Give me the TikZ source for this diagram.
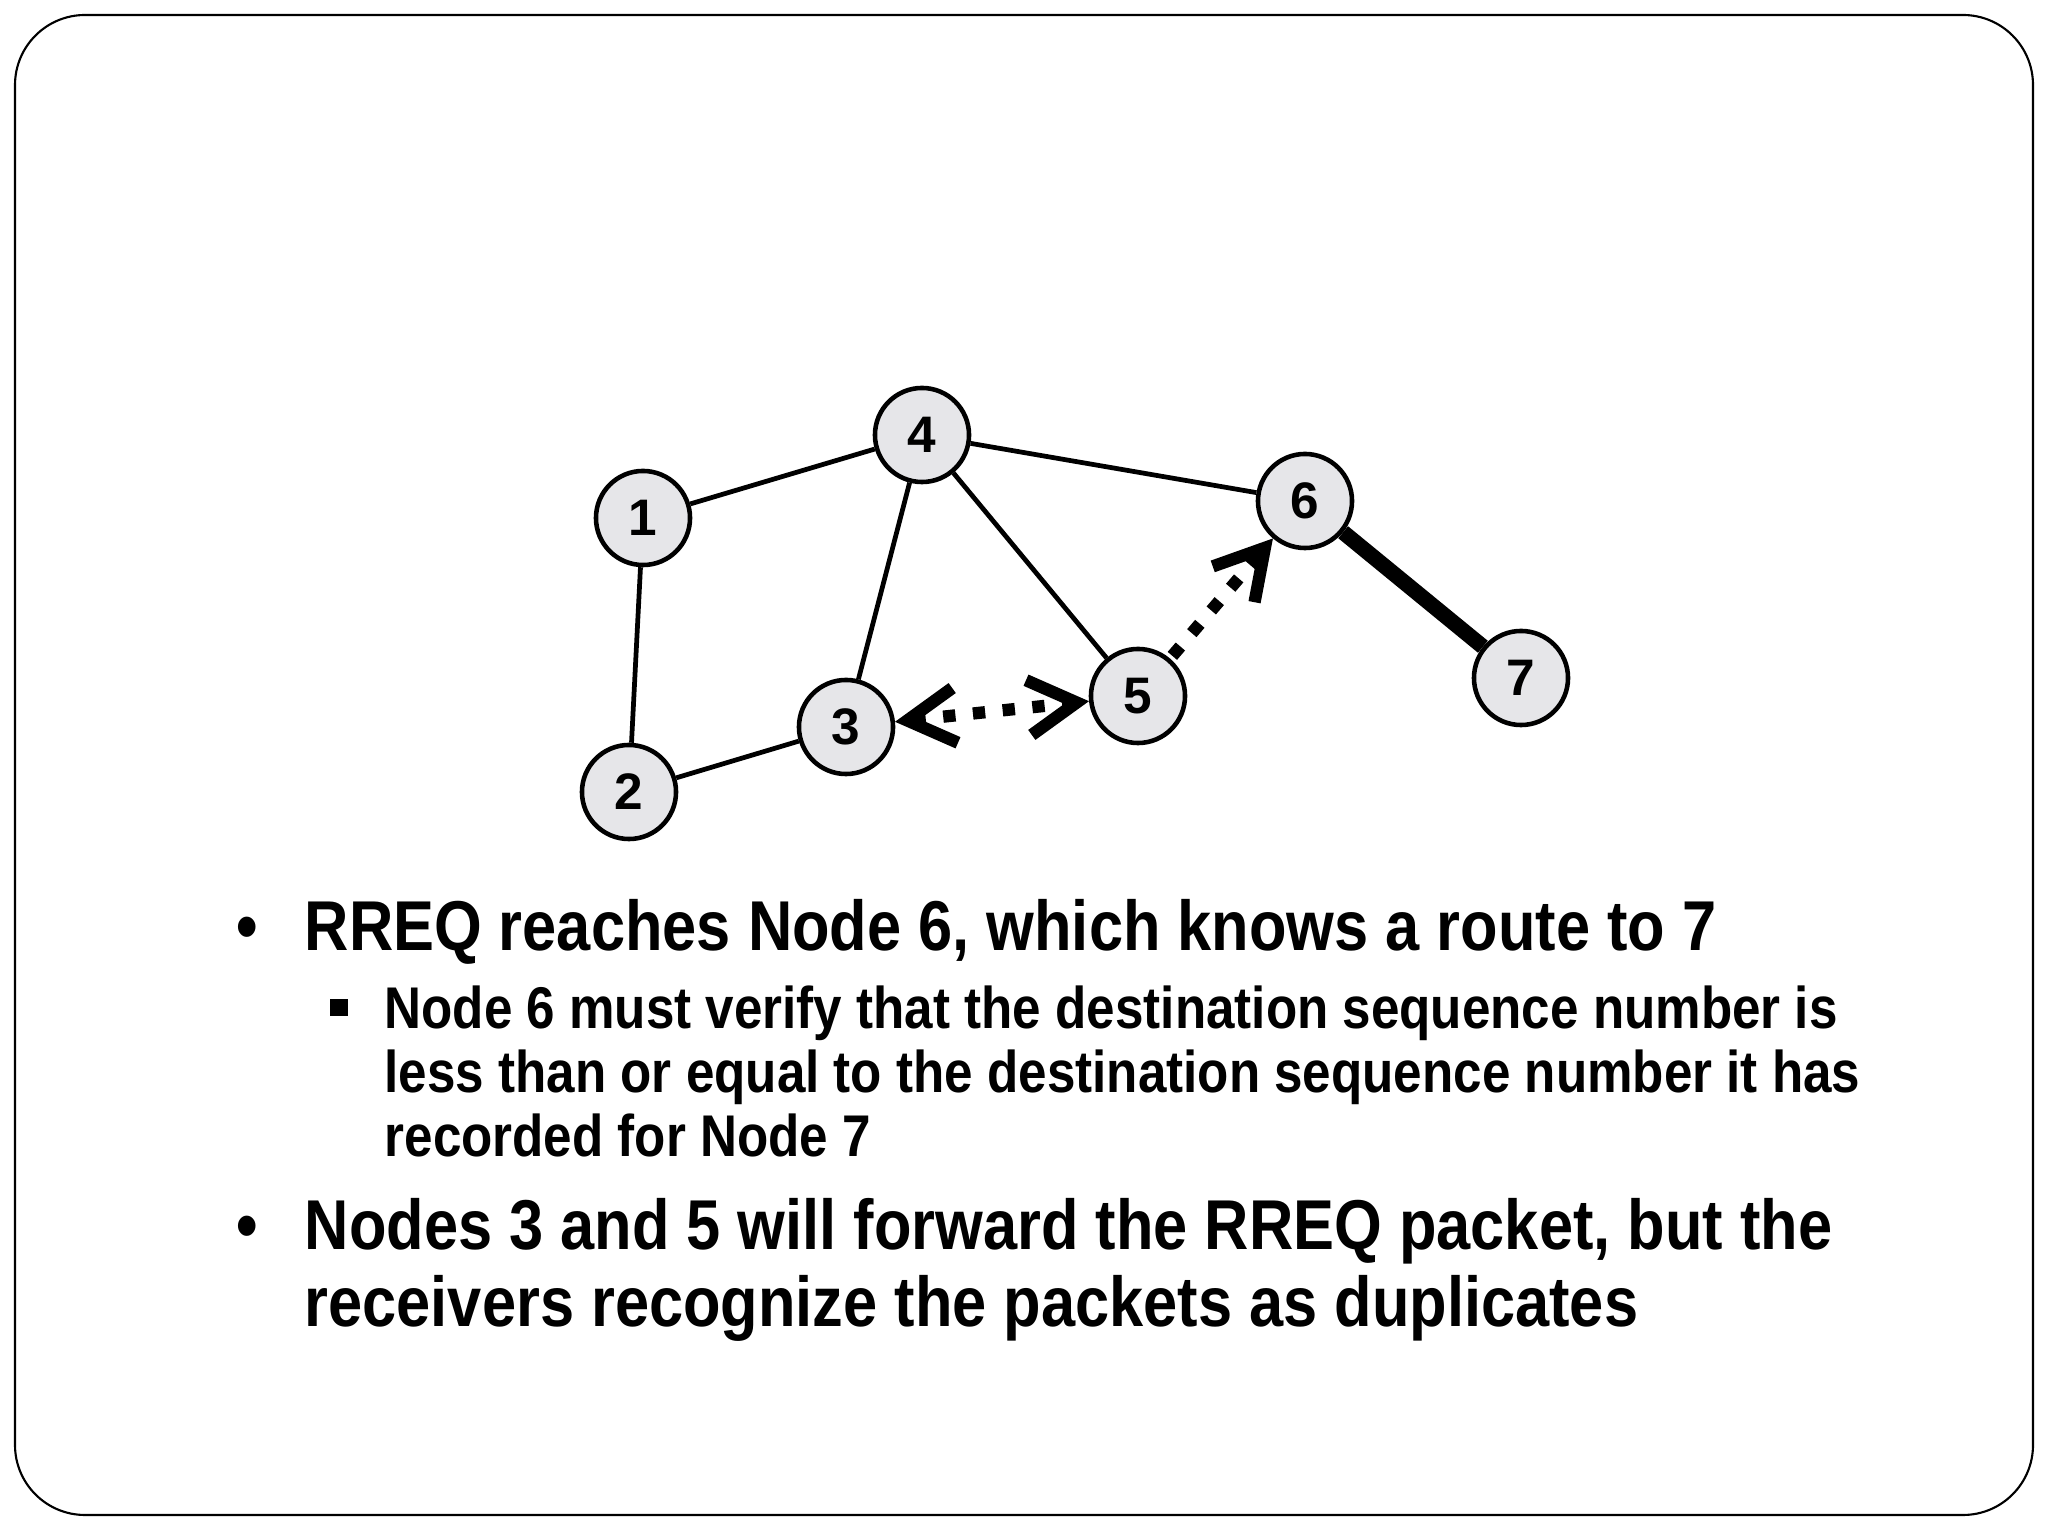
\documentclass[tikz,border=0pt]{standalone}
\usepackage{fontspec}
\setmainfont{Liberation Sans}
\usetikzlibrary{arrows.meta}
\definecolor{knotenfill}{RGB}{230,230,233}
\tikzset{
    %Define standard arrow tip
    >={Straight Barb[length=0.48cm,width=0.55cm]},
    %Define style for the network nodes
    knoten/.style={
           circle,
           draw=black, line width=1.3pt,
           fill=knotenfill,
           minimum size=0.94cm,
           inner sep=0pt,
           font=\fontsize{14.6pt}{15pt}\selectfont\bfseries},
    % Define link styles
    link/.style={
           line width=1.35pt},
    fest/.style={
           line width=4.4pt},
    pil/.style={
           line width=3.5pt,
           dash pattern=on 3.5pt off 5pt},
    %Define style for the text lines
    zeile/.style={
           anchor=base west,
           inner sep=0pt,
           yscale=1.15, transform shape,
           font=\fontsize{17.45pt}{19pt}\selectfont\bfseries},
    unterzeile/.style={
           zeile,
           font=\fontsize{14.55pt}{16pt}\selectfont\bfseries}
}
\begin{document}
\begin{tikzpicture}[x=0.01cm, y=0.01cm]
\useasboundingbox (0,0) rectangle (2048,1536);

% slide frame
\draw[line width=0.6pt, rounded corners=0.7cm] (15,21) rectangle (2033,1521);

%nodes
\node[knoten] (n1) at (643,1018) {1};
\node[knoten] (n2) at (629,744) {2};
\node[knoten] (n3) at (846,809) {3};
\node[knoten] (n4) at (922,1101) {4};
\node[knoten] (n5) at (1138,840) {5};
\node[knoten] (n6) at (1305,1035) {6};
\node[knoten] (n7) at (1521,858) {7};

\draw [link] (n1) -- (n4);
\draw [link] (n1) -- (n2);
\draw [link] (n2) -- (n3);
\draw [link] (n3) -- (n4);
\draw [link] (n4) -- (n5);
\draw [link] (n4) -- (n6);
\draw [fest] (n6) -- (n7);

\draw [pil, <->] (n3) -- (n5);
\draw [pil, ->, shorten <=1pt] (n5) -- (n6);

% bullet text
\node[zeile] (p1) at (236,585) {•};
\node[zeile] (z1) at (304,585) {RREQ reaches Node 6, which knows a route to 7};

\node[fill=black, minimum size=0.17cm, inner sep=0pt] (q1) at (339,528) {};
\node[unterzeile] (u1) at (384,507) {Node 6 must verify that the destination sequence number is};
\node[unterzeile] (u2) at (384,443) {less than or equal to the destination sequence number it has};
\node[unterzeile] (u3) at (384,379) {recorded for Node 7};

\node[zeile] (p2) at (236,286) {•};
\node[zeile] (z2) at (304,286) {Nodes 3 and 5 will forward the RREQ packet, but the};
\node[zeile] (z3) at (304,209) {receivers recognize the packets as duplicates};
\end{tikzpicture}
\end{document}
